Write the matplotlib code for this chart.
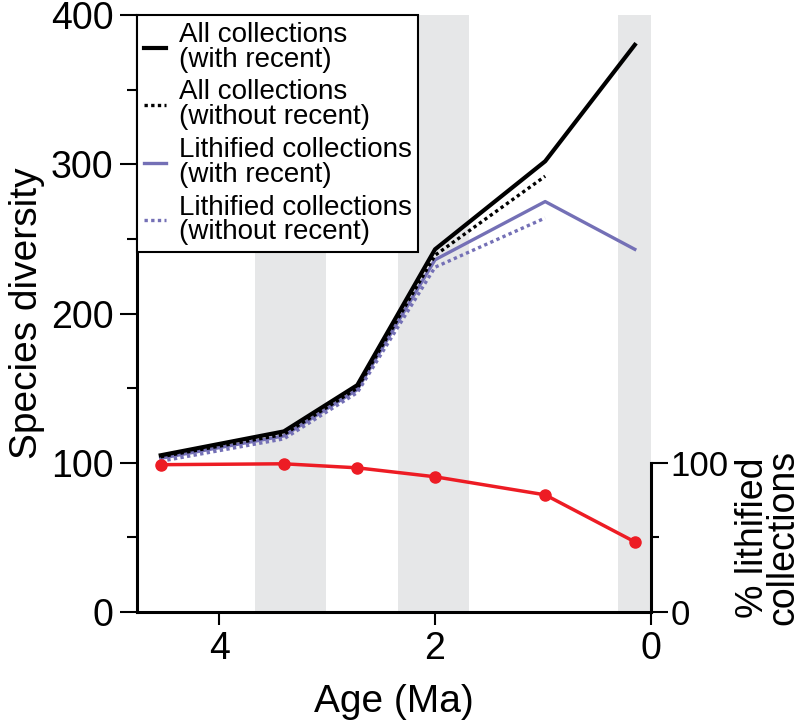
import numpy as np
import matplotlib.pyplot as plt
from matplotlib.ticker import MultipleLocator

plt.rcParams['font.family'] = ['Liberation Sans', 'DejaVu Sans']

# data
age = [4.54, 3.40, 2.72, 2.0, 0.98, 0.15]
age_old = [4.54, 3.40, 2.72, 2.0, 0.98]
all_rec = [105, 121, 152, 243, 302, 380]
all_norec = [104, 119, 150, 239, 292]
lith_rec = [103, 118, 149, 236, 275, 243]
lith_norec = [101, 116, 147, 231, 264]
pct_lith = [98.7, 99.3, 96.6, 90.6, 78.5, 47]
bands = [(3.67, 3.01), (2.34, 1.69), (0.31, 0.0)]

purple = '#7470b6'
red = '#ed1c24'

fig = plt.figure(figsize=(8.03, 7.23), dpi=100)
ax = fig.add_axes([137/803, 1-612/723, (651-137)/803, (612-15)/723])

for a, b in bands:
    ax.axvspan(a, b, color='#e6e7e8', lw=0, zorder=0)

ax.plot(age_old, lith_norec, color=purple, lw=2.4, ls=(0, (1, 1)), zorder=2,
        label='Lithified collections\n(without recent)')
ax.plot(age, lith_rec, color=purple, lw=2.4, zorder=3,
        label='Lithified collections\n(with recent)')
ax.plot(age_old, all_norec, color='black', lw=2.4, ls=(0, (1, 1)), zorder=4,
        label='All collections\n(without recent)')
ax.plot(age, all_rec, color='black', lw=3, zorder=5,
        label='All collections\n(with recent)')

ax.set_xlim(4.76, 0)
ax.set_ylim(0, 400)
ax.set_xticks([4, 2, 0])
ax.set_yticks([0, 100, 200, 300, 400])
ax.yaxis.set_minor_locator(MultipleLocator(50))
for s in ['top', 'right']:
    ax.spines[s].set_visible(False)
for s in ['left', 'bottom']:
    ax.spines[s].set_linewidth(2.2)
ax.tick_params(axis='y', which='major', length=12, width=1.5, labelsize=27, pad=5)
ax.tick_params(axis='y', which='minor', length=7, width=1.5)
ax.tick_params(axis='x', which='major', length=9, width=1.5, labelsize=27, pad=5)
ax.set_xlabel('Age (Ma)', fontsize=28, labelpad=12)
ax.set_ylabel('Species diversity', fontsize=28, labelpad=4)

h, l = ax.get_legend_handles_labels()
order = [3, 2, 1, 0]
leg = ax.legend([h[i] for i in order], [l[i] for i in order], loc='upper left',
                bbox_to_anchor=(0, 1), borderaxespad=0, fontsize=20,
                handlelength=0.8, handletextpad=0.45, labelspacing=0.25,
                fancybox=False, framealpha=1, edgecolor='black',
                borderpad=0.25)
leg.get_frame().set_linewidth(1.5)
for t in leg.get_texts():
    t.set_linespacing(0.93)

ax2 = ax.twinx()
ax2.set_ylim(0, 400)
ax2.plot(age, pct_lith, color=red, lw=2.5, marker='o', ms=8, zorder=6)
for s in ['top', 'left', 'bottom']:
    ax2.spines[s].set_visible(False)
ax2.spines['right'].set_bounds(0, 100)
ax2.spines['right'].set_linewidth(2.2)
ax2.set_yticks([0, 100])
ax2.set_yticks([50], minor=True)
ax2.tick_params(which='major', length=12, width=1.5, labelsize=25, pad=2)
ax2.tick_params(which='minor', length=6, width=1.5)
ax2.text(1.228, 0.125, '% lithified\ncollections', transform=ax.transAxes,
         rotation=90, ha='center', va='center', fontsize=27, linespacing=0.82)

fig.savefig('out.png', dpi=100)
